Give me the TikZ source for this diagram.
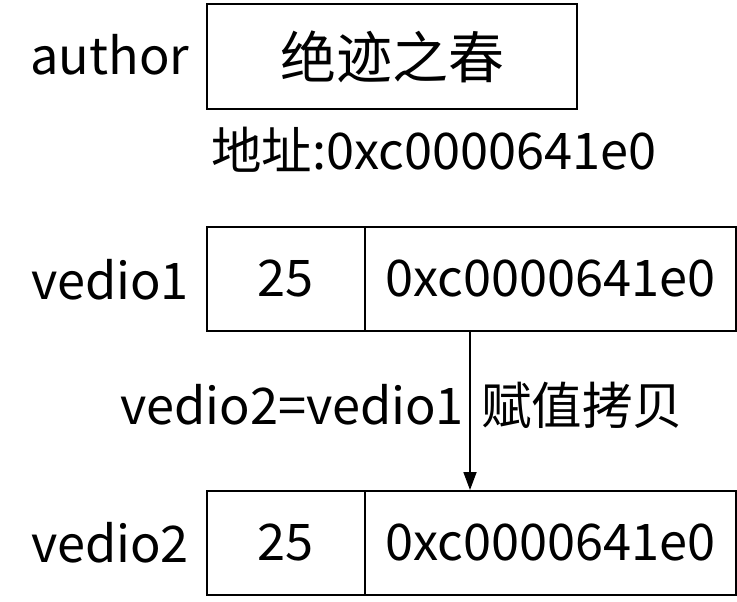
\documentclass[tikz,border=0pt]{standalone}
\usepackage{fontspec}
\usetikzlibrary{arrows.meta}
\setmainfont{Noto Sans CJK SC}
\begin{document}
\begin{tikzpicture}[x=1pt,y=-1pt,
  lbl/.style={font=\fontsize{50.5}{56}\selectfont, inner sep=0pt},
  cell/.style={draw, line width=1.6pt, minimum height=104pt, inner sep=0pt, anchor=north west, font=\fontsize{50.5}{56}\selectfont},
  arr/.style={-{Triangle[length=18pt,width=13pt]}, line width=1.8pt}]
\useasboundingbox (0,0) rectangle (737,602);
% author
\node[draw, line width=2.2pt, minimum width=370pt, minimum height=105pt, anchor=north west, inner sep=0pt,
  font=\fontsize{56}{62}\selectfont] (abox) at (206,3) {绝迹之春};
\node[lbl] (alab) at (110,55) {author};
\node[lbl] (addr) at (434,150) {地址:0xc0000641e0};
% vedio1
\node[lbl] (v1lab) at (110,280) {vedio1};
\node[cell, minimum width=158pt] (v1a) at (206,226) {25};
\node[cell, minimum width=371pt] (v1b) at (364,226) {0xc0000641e0};
% vedio2
\node[lbl] (v2lab) at (110,543) {vedio2};
\node[cell, minimum width=158pt] (v2a) at (206,490) {25};
\node[cell, minimum width=371pt] (v2b) at (364,490) {0xc0000641e0};
% arrow
\coordinate (s) at (470,330);
\coordinate (e) at (470,490);
\draw[arr] (s) -- (e);
\node[lbl] (eq) at (292,405) {vedio2=vedio1};
\node[lbl] (copy) at (582,405) {赋值拷贝};
\end{tikzpicture}
\end{document}
